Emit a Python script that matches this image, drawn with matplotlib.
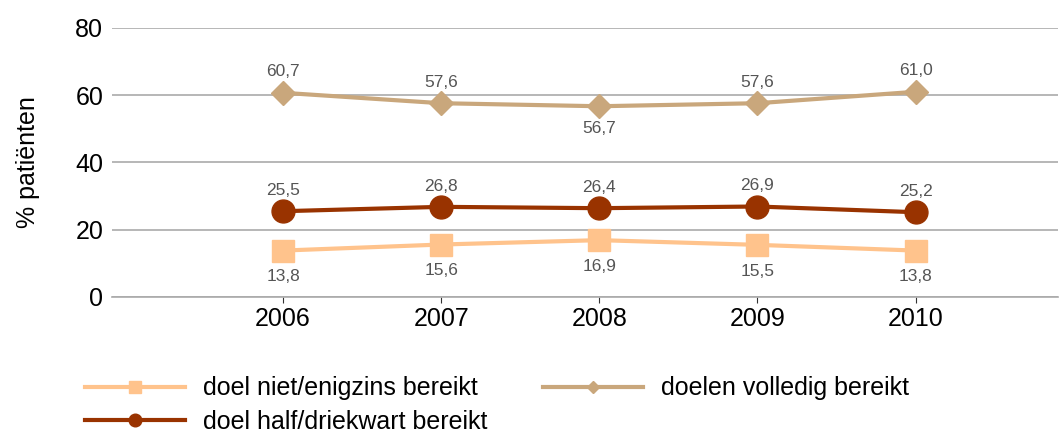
import matplotlib.pyplot as plt

plt.rcParams["font.family"] = ["Liberation Sans", "DejaVu Sans"]

years = [2006, 2007, 2008, 2009, 2010]
niet = [13.8, 15.6, 16.9, 15.5, 13.8]
half = [25.5, 26.8, 26.4, 26.9, 25.2]
volledig = [60.7, 57.6, 56.7, 57.6, 61.0]

# label placement: 1 = above, -1 = below
pos_niet = [-1, -1, -1, -1, -1]
pos_half = [1, 1, 1, 1, 1]
pos_volledig = [1, 1, -1, 1, 1]

c_niet = "#FFC38C"
c_half = "#993300"
c_volledig = "#C9A77C"

fig = plt.figure(figsize=(10.59, 4.32), dpi=100)
ax = fig.add_axes([0.106, 0.3125, 0.893, 0.623])

ax.plot(years, niet, color=c_niet, lw=3, marker="s", ms=16.5, label="doel niet/enigzins bereikt", zorder=3)
ax.plot(years, half, color=c_half, lw=3, marker="o", ms=16.5, label="doel half/driekwart bereikt", zorder=3)
ax.plot(years, volledig, color=c_volledig, lw=3, marker="D", ms=12, label="doelen volledig bereikt", zorder=3)

for vals, pos in [(niet, pos_niet), (half, pos_half), (volledig, pos_volledig)]:
    for x, v, p in zip(years, vals, pos):
        off = 15 if p > 0 else (19 if vals is niet else 16)
        ax.annotate(f"{v:.1f}".replace(".", ","), (x, v), xytext=(0, off * p),
                    textcoords="offset points", ha="center", va="center",
                    fontsize=12.5, color="#555555")

ax.set_xlim(2004.92, 2010.9)
ax.set_ylim(0, 80)
ax.set_yticks([0, 20, 40, 60, 80])
ax.set_xticks(years)
ax.grid(axis="y", color="#AAAAAA", lw=1.2)
ax.set_axisbelow(True)
for s in ["top", "right", "left"]:
    ax.spines[s].set_visible(False)
ax.spines["bottom"].set_color("#AAAAAA")
ax.spines["bottom"].set_linewidth(1.2)
ax.tick_params(axis="y", length=0, labelsize=18, pad=6.5)
ax.tick_params(axis="x", length=4, color="#333333", labelsize=18, pad=3)
ax.set_ylabel("% patiënten", fontsize=18)
ax.yaxis.set_label_coords(-0.076, 0.5)

fig.legend(loc="upper left", bbox_to_anchor=(0.071, 0.152), ncol=2, frameon=False,
           fontsize=18, handlelength=4.0, handletextpad=0.72, columnspacing=2.2,
           labelspacing=0.38, markerscale=0.55, borderaxespad=0)

fig.savefig("out.png", dpi=100)
